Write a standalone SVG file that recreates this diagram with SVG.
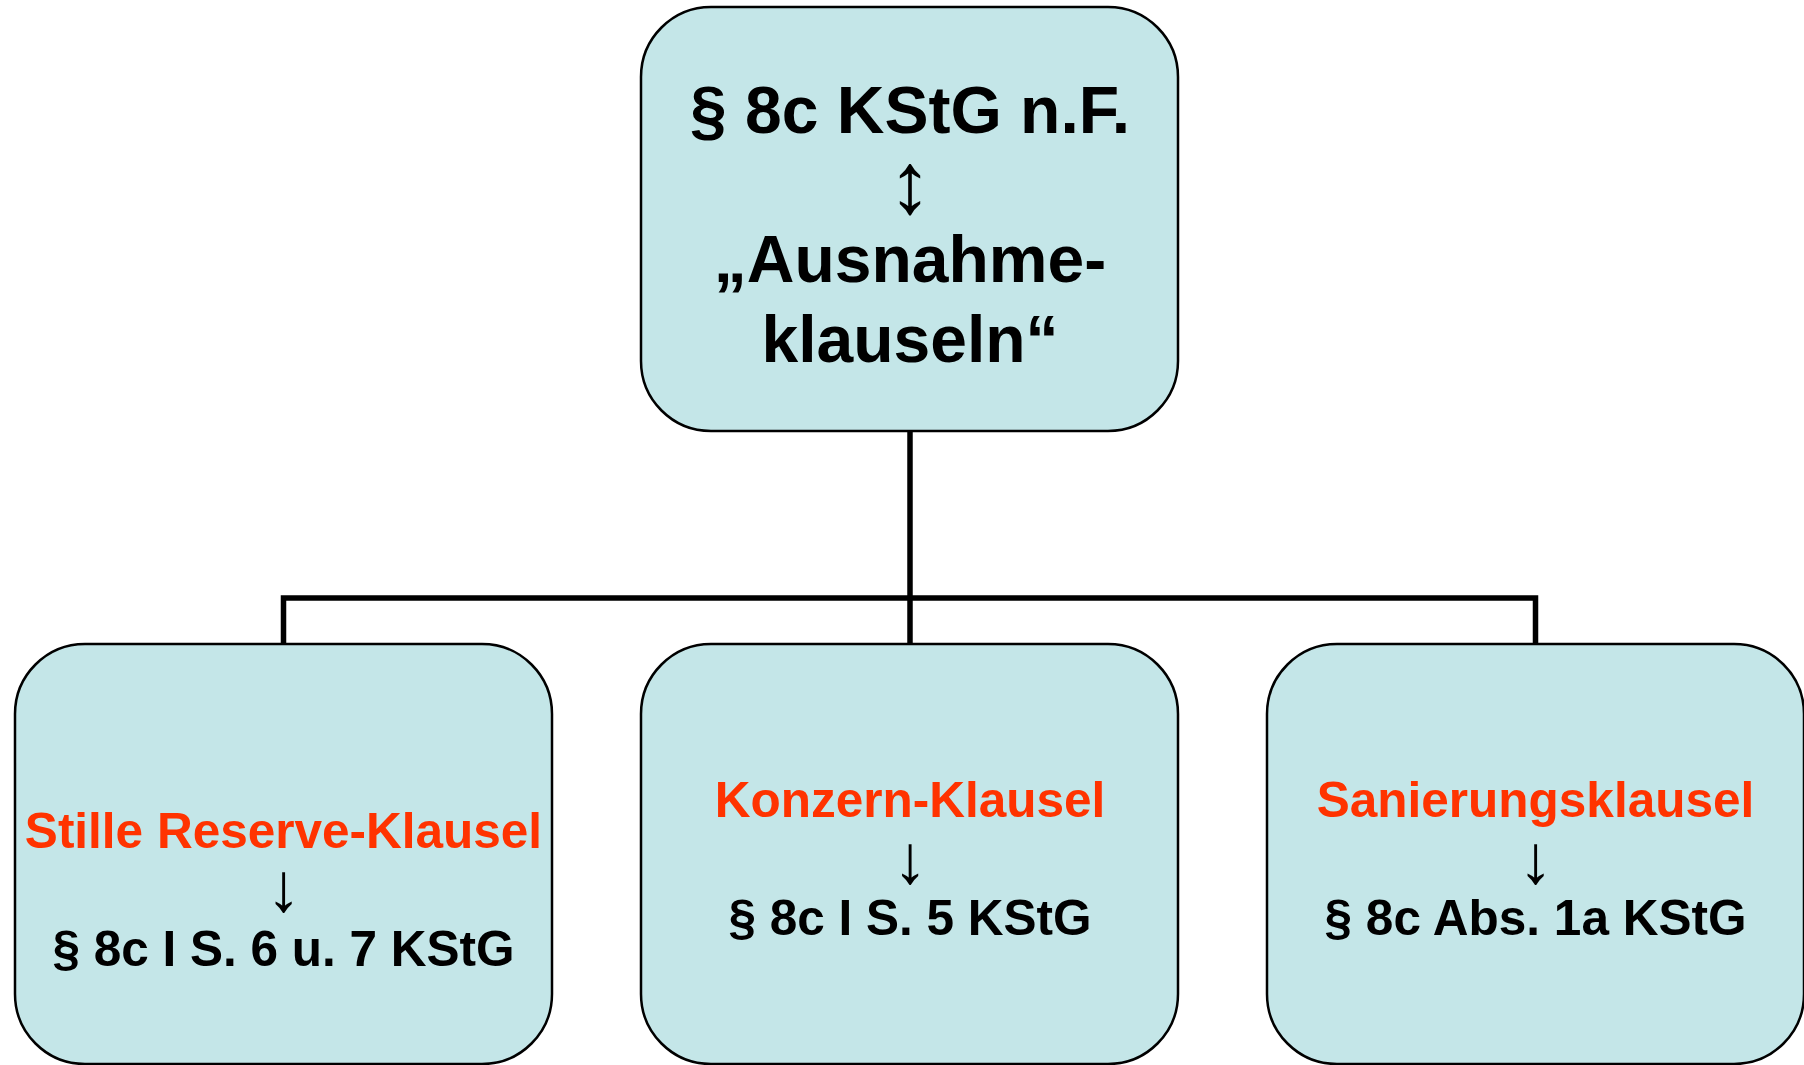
<svg xmlns="http://www.w3.org/2000/svg" width="1804" height="1065" viewBox="0 0 1804 1065">
  <style>
    .box { fill: #C4E6E8; stroke: #000; stroke-width: 2.5; }
    .t { font-family: "Liberation Sans", Arial, sans-serif; font-weight: bold; text-anchor: middle; }
    .head { font-size: 66px; fill: #000; }
    .red { font-size: 49.5px; fill: #FF3300; }
    .ref { font-size: 49.5px; fill: #000; }
    .arr { font-family: "Liberation Sans", Arial, sans-serif; font-weight: normal; text-anchor: middle; fill: #000; }
    .wire { fill: none; stroke: #000; stroke-width: 5.5; stroke-linejoin: miter; stroke-linecap: butt; }
  </style>

  <!-- tree connectors -->
  <g id="connectors">
    <path class="wire" d="M910 431 V598"/>
    <path class="wire" d="M283.5 644 V598 H1535.5 V644"/>
    <path class="wire" d="M910 598 V644"/>
  </g>

  <!-- root -->
  <g id="node-root">
    <rect class="box" x="641" y="7" width="537" height="424" rx="70" ry="70"/>
    <text class="t head" x="910" y="133">§ 8c KStG n.F.</text>
    <text class="arr" x="910" y="213" font-size="87">↕</text>
    <text class="t head" x="910" y="282">„Ausnahme-</text>
    <text class="t head" x="910" y="362">klauseln“</text>
  </g>

  <!-- left child -->
  <g id="node-stille-reserve">
    <rect class="box" x="15" y="644" width="537" height="420" rx="70" ry="70"/>
    <text class="t red" x="283.5" y="848">Stille Reserve-Klausel</text>
    <text class="arr" x="283.5" y="911" font-size="69">↓</text>
    <text class="t ref" x="283.5" y="966">§ 8c I S. 6 u. 7 KStG</text>
  </g>

  <!-- middle child -->
  <g id="node-konzern">
    <rect class="box" x="641" y="644" width="537" height="420" rx="70" ry="70"/>
    <text class="t red" x="910" y="817">Konzern-Klausel</text>
    <text class="arr" x="910" y="883" font-size="69">↓</text>
    <text class="t ref" x="910" y="935">§ 8c I S. 5 KStG</text>
  </g>

  <!-- right child -->
  <g id="node-sanierung">
    <rect class="box" x="1267" y="644" width="537" height="420" rx="70" ry="70"/>
    <text class="t red" x="1535.5" y="817">Sanierungsklausel</text>
    <text class="arr" x="1535.5" y="883" font-size="69">↓</text>
    <text class="t ref" x="1535.5" y="935">§ 8c Abs. 1a KStG</text>
  </g>
</svg>
